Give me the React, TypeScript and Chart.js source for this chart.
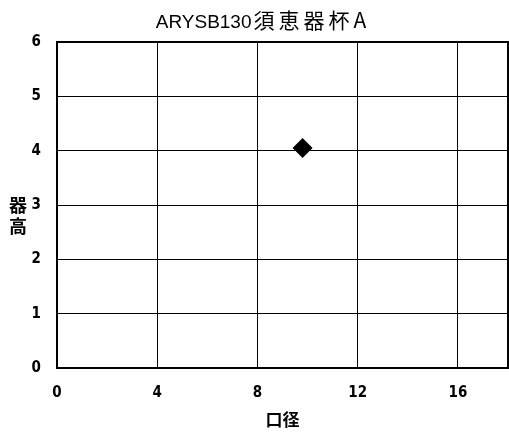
import React, { useEffect, useRef } from "react";
import { Chart, registerables } from "chart.js";

Chart.register(...registerables);

const titleLatin = "ARYSB130";
const titleCjk = "須恵器杯A";
const xAxisTitle = "口径";
const yAxisTitleChars = ["器", "高"];
const xTicks = [0, 4, 8, 12, 16];
const xMin = 0;
const xMax = 18;
const yMin = 0;
const yMax = 6;
const rimDiameter = [9.8];
const vesselHeight = [4.05];

const tickFont = '"DejaVu Sans Condensed", "Liberation Sans Narrow", "Liberation Sans", sans-serif';

const framePlugin = {
  id: "frame",
  beforeDatasetsDraw(chart: any) {
    const { ctx, chartArea } = chart;
    ctx.save();
    ctx.strokeStyle = "#000";
    ctx.lineWidth = 2;
    ctx.strokeRect(chartArea.left, chartArea.top, chartArea.right - chartArea.left, chartArea.bottom - chartArea.top);
    ctx.restore();
  },
  afterDraw(chart: any) {
    const { ctx } = chart;
    ctx.save();
    ctx.fillStyle = "#000";
    ctx.font = 'bold 18px "Noto Sans CJK JP", sans-serif';
    ctx.textAlign = "center";
    ctx.textBaseline = "middle";
    yAxisTitleChars.forEach((c, i) => {
      ctx.fillText(c, 18, 205 + i * 21);
    });
    ctx.textAlign = "left";
    ctx.textBaseline = "alphabetic";
    ctx.font = '19px "Liberation Sans", sans-serif';
    const latinW = ctx.measureText(titleLatin).width;
    ctx.font = '21px "Noto Sans CJK JP", sans-serif';
    (ctx as any).letterSpacing = "4px";
    const cjkW = ctx.measureText(titleCjk).width;
    const total = latinW + cjkW;
    const start = 262 - total / 2;
    (ctx as any).letterSpacing = "0px";
    ctx.font = '19px "Liberation Sans", sans-serif';
    ctx.fillText(titleLatin, start, 28);
    ctx.font = '21px "Noto Sans CJK JP", sans-serif';
    (ctx as any).letterSpacing = "4px";
    ctx.fillText(titleCjk, start + latinW + 2, 28);
    ctx.restore();
  },
};

export default function App() {
  const ref = useRef<HTMLCanvasElement>(null);
  useEffect(() => {
    if (!ref.current) return;
    const chart = new Chart(ref.current, {
      type: "scatter",
      data: {
        datasets: [
          {
            data: rimDiameter.map((x, i) => ({ x, y: vesselHeight[i] })),
            pointStyle: "rectRot",
            pointRadius: 10,
            backgroundColor: "#000",
            borderColor: "#000",
            borderWidth: 0,
          },
        ],
      },
      options: {
        responsive: false,
        animation: false,
        layout: { autoPadding: false, padding: { left: 0, right: 1, top: 42, bottom: 0 } },
        plugins: {
          legend: { display: false },
          tooltip: { enabled: false },
          title: { display: false },
        },
        scales: {
          x: {
            type: "linear",
            min: xMin,
            max: xMax,
            afterBuildTicks: (scale: any) => {
              scale.ticks = xTicks.map((v) => ({ value: v }));
            },
            afterFit: (scale: any) => {
              scale.height = 70;
            },
            grid: { color: "#000", lineWidth: 1, drawTicks: false },
            border: { display: false },
            ticks: {
              color: "#000",
              padding: 16,
              font: { family: tickFont, size: 15, weight: "bold" },
            },
            title: {
              display: true,
              text: xAxisTitle,
              color: "#000",
              font: { family: '"Noto Sans CJK JP", sans-serif', size: 17, weight: "bold" },
              padding: { top: 4, bottom: 8 },
            },
          },
          y: {
            type: "linear",
            min: yMin,
            max: yMax,
            afterFit: (scale: any) => {
              scale.width = 57;
            },
            grid: { color: "#000", lineWidth: 1, drawTicks: false },
            border: { display: false },
            ticks: {
              stepSize: 1,
              color: "#000",
              padding: 16,
              font: { family: tickFont, size: 15, weight: "bold" },
            },
          },
        },
      },
      plugins: [framePlugin],
    });
    return () => chart.destroy();
  }, []);
  return (
    <div style={{ position: "absolute", left: 0, top: 0, width: 509, height: 438, background: "#fff" }}>
      <canvas ref={ref} width={509} height={438} style={{ display: "block" }} />
    </div>
  );
}
